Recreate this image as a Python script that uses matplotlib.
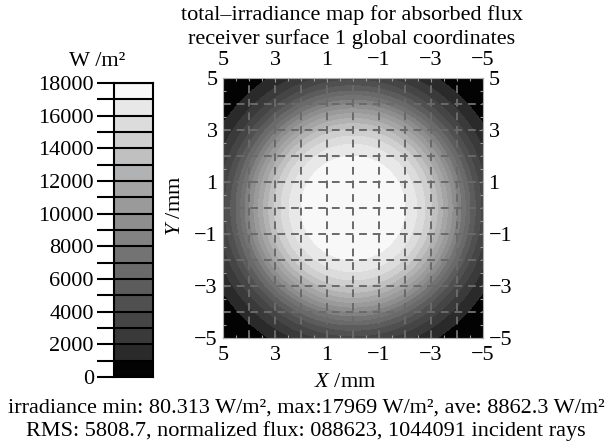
import numpy as np
import matplotlib
matplotlib.use("Agg")
import matplotlib.pyplot as plt
from matplotlib.colors import ListedColormap, BoundaryNorm

plt.rcParams["font.family"] = ["Liberation Serif", "DejaVu Serif"]
plt.rcParams["axes.unicode_minus"] = True
plt.rcParams["mathtext.fontset"] = "custom"
plt.rcParams["mathtext.rm"] = "Liberation Serif"
plt.rcParams["mathtext.it"] = "Liberation Serif:italic"

# irradiance levels (W/m^2) and the grey of each band
levels = np.arange(0, 19000, 1000)
band_grey = ["#030303", "#2a2a2a", "#3a3a3a", "#454545", "#505050", "#5c5c5c",
             "#6a6a6a", "#737373", "#828282", "#8e8e8e", "#9a9a9a", "#a5a5a5",
             "#b1b2b3", "#c0c0c0", "#cfcfcf", "#dcdcdc", "#e8e8e8", "#f8f8f8"]

# radius (mm) of each contour 1000 ... 17000
contour_level = [1000, 2000, 3000, 4000, 5000, 6000, 7000, 8000, 9000,
                 10000, 11000, 12000, 13000, 14000, 15000, 16000, 17000]
contour_radius = [5.95, 5.5, 5.18, 4.92, 4.7, 4.5, 4.32, 4.15, 3.98,
                  3.81, 3.63, 3.44, 3.24, 3.02, 2.77, 2.45, 2.0]
irr_max = 17969.0
irr_min = 80.313
centre = (0.0, 0.0)

tick_vals = [5, 3, 1, -1, -3, -5]

title = "total\u2013irradiance map for absorbed flux\nreceiver surface 1 global coordinates"
stats1 = "irradiance min: 80.313 W/m\u00b2, max:17969 W/m\u00b2, ave: 8862.3 W/m\u00b2"
stats2 = "RMS: 5808.7, normalized flux: 088623, 1044091 incident rays"

W, H = 611, 443
FS = 16
fig = plt.figure(figsize=(W / 100, H / 100), dpi=100)
fig.patch.set_facecolor("white")

cmap = ListedColormap(band_grey)
norm = BoundaryNorm(levels, cmap.N)

# ---- irradiance map ----
ax = fig.add_axes([223 / W, 1 - 338 / H, 260 / W, 260 / H])
x = np.linspace(-5, 5, 401)
X, Y = np.meshgrid(x, x)
R = np.hypot(X - centre[0], Y - centre[1])
rad_sorted = [0.0] + contour_radius[::-1] + [7.1]
val_sorted = [irr_max] + contour_level[::-1] + [irr_min]
Z = np.interp(R, rad_sorted, val_sorted)
ax.contourf(X, Y, Z, levels=levels, cmap=cmap, norm=norm)
ax.set_xlim(5, -5)
ax.set_ylim(-5, 5)
ax.set_aspect("auto")

for g in range(-4, 5):
    ax.axvline(g, color="#6a6a6a", lw=1.4, ls=(0, (4, 3)))
    ax.axhline(g, color="#6a6a6a", lw=1.4, ls=(0, (4, 3)))

ax.set_xticks(tick_vals)
ax.set_yticks(tick_vals)
ax.tick_params(axis="both", which="major", direction="in", length=3, width=0.8,
               color="#9a9a9a", labelsize=FS, top=True, right=True,
               labeltop=True, labelright=True, pad=4)
ax.tick_params(axis="x", which="major", pad=6)
ax.set_xticks(np.arange(-4.5, 5, 0.5), minor=True)
ax.set_yticks(np.arange(-4.5, 5, 0.5), minor=True)
ax.tick_params(which="minor", direction="in", length=2, width=0.8,
               color="#9a9a9a", top=True, right=True)
for s in ax.spines.values():
    s.set_color("#a8b0a8")
    s.set_linewidth(0.8)

ax.set_xlabel("$X$ /mm", fontsize=FS)
ax.xaxis.set_label_coords(0.47, -0.135)
ax.set_ylabel("$Y$ /mm", fontsize=FS)
ax.yaxis.set_label_coords(-0.145, 0.51)

# ---- colour bar ----
cax = fig.add_axes([114 / W, 1 - 377 / H, 39 / W, 294 / H])
cax.pcolormesh([0, 1], levels, np.arange(len(band_grey)).reshape(-1, 1),
               cmap=cmap, vmin=-0.5, vmax=len(band_grey) - 0.5)
for lv in levels:
    cax.axhline(lv, color="black", lw=1.5)
cax.set_xlim(0, 1)
cax.set_ylim(0, 18000)
cax.set_xticks([])
cax.set_yticks(levels)
cax.set_yticklabels([str(v) if v % 2000 == 0 else "" for v in levels])
cax.tick_params(axis="y", length=12.5, width=1.5, labelsize=FS, pad=2)
for s in cax.spines.values():
    s.set_linewidth(1.5)
fig.text(97 / W, 1 - 62 / H, "W /m\u00b2", ha="center", va="center", fontsize=FS)

# ---- texts ----
fig.text(352 / W, 1 - 27 / H, title, ha="center", va="center", fontsize=FS,
         linespacing=1.3)
fig.text(306 / W, 1 - 408 / H, stats1, ha="center", va="center", fontsize=FS)
fig.text(306 / W, 1 - 431 / H, stats2, ha="center", va="center", fontsize=FS)

fig.savefig("out.png", dpi=100)
